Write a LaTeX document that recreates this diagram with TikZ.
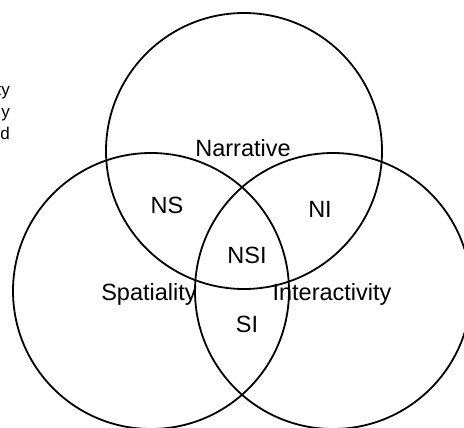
\documentclass[tikz,border=0pt]{standalone}
\usepackage{fontspec}
\setmainfont{Liberation Sans}
\begin{document}
\begin{tikzpicture}[x=1pt,y=-1pt,
  setcircle/.style={draw=black,line width=1.8pt},
  biglabel/.style={font=\fontsize{23.5}{28}\selectfont,inner sep=0pt,anchor=base},
  smalllabel/.style={font=\fontsize{17}{20}\selectfont,inner sep=0pt,anchor=base east}]
\useasboundingbox (0,0) rectangle (464,428);
\begin{scope}
\clip (0,0) rectangle (464,428);
\draw[setcircle] (244,151) circle[radius=138];
\draw[setcircle] (151,291) circle[radius=138];
\draw[setcircle] (333,291) circle[radius=138];
\end{scope}
\node[biglabel] (narr) at (243,157) {Narrative};
\node[biglabel] (ns) at (167,213) {NS};
\node[biglabel] (ni) at (320,218) {NI};
\node[biglabel] (nsi) at (247,263) {NSI};
\node[biglabel] (spat) at (149,300) {Spatiality};
\node[biglabel] (inter) at (332,300) {Interactivity};
\node[biglabel] (si) at (247,332) {SI};
\begin{scope}
\clip (0,0) rectangle (464,428);
\node[smalllabel] (t1) at (10,96) {ty};
\node[smalllabel] (t2) at (10,118) {y};
\node[smalllabel] (t3) at (10,140) {d};
\end{scope}
\end{tikzpicture}
\end{document}
